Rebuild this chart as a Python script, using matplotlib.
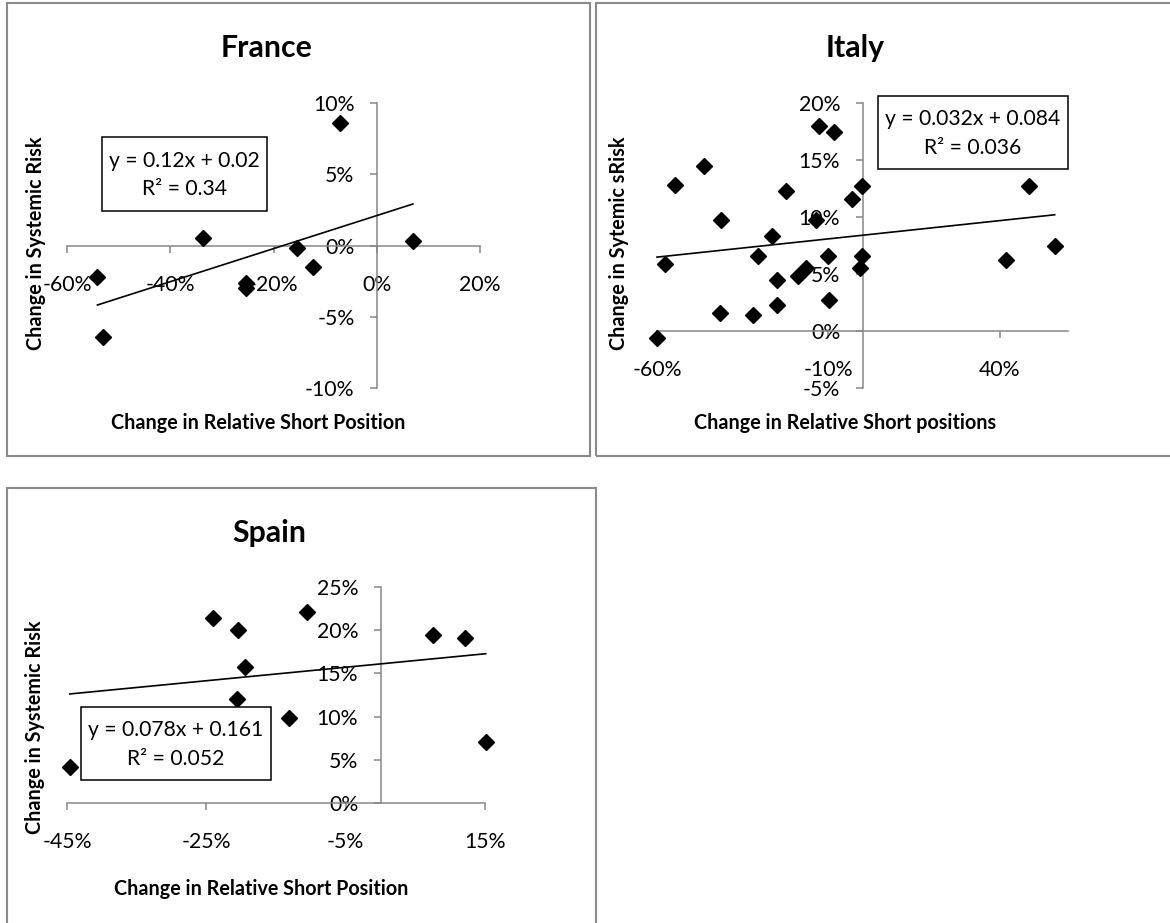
import matplotlib
matplotlib.use("Agg")
import matplotlib.pyplot as plt
from matplotlib.patches import Rectangle
from matplotlib.ticker import PercentFormatter, FixedLocator
import numpy as np

plt.rcParams['font.family'] = ['Lato', 'DejaVu Sans']
plt.rcParams['axes.unicode_minus'] = False

# France
france_x = [-0.072, -0.336, -0.541, -0.530, -0.253, -0.253, -0.155, -0.123, 0.070]
france_y = [0.086, 0.005, -0.022, -0.064, -0.026, -0.030, -0.002, -0.015, 0.003]
france_fit = [0.116, 0.021]
france_eq = "y = 0.12x + 0.02\nR² = 0.34"
france_xticks = [-0.6, -0.4, -0.2, 0.0, 0.2]
france_yticks = [-0.10, -0.05, 0.0, 0.05, 0.10]

# Italy
italy_x = [-0.127, -0.083, -0.462, -0.546, -0.222, -0.002, -0.032, -0.413, -0.137,
           -0.263, -0.576, -0.305, -0.101, -0.002, -0.166, -0.188, -0.251, -0.008,
           -0.098, -0.251, -0.415, -0.320, -0.600, 0.486, 0.418, 0.561]
italy_y = [0.180, 0.175, 0.145, 0.128, 0.123, 0.127, 0.116, 0.097, 0.097,
           0.083, 0.059, 0.066, 0.066, 0.066, 0.055, 0.048, 0.045, 0.055,
           0.027, 0.023, 0.016, 0.014, -0.006, 0.127, 0.062, 0.075]
italy_fit = [0.032, 0.084]
italy_eq = "y = 0.032x + 0.084\nR² = 0.036"
italy_xticks = [-0.6, -0.1, 0.4]
italy_yticks = [-0.05, 0.0, 0.05, 0.10, 0.15, 0.20]

# Spain
spain_x = [-0.241, -0.205, -0.105, -0.194, -0.206, -0.131, -0.446, 0.075, 0.121, 0.151]
spain_y = [0.214, 0.200, 0.221, 0.157, 0.120, 0.098, 0.042, 0.195, 0.191, 0.071]
spain_fit = [0.078, 0.161]
spain_eq = "y = 0.078x + 0.161\nR² = 0.052"
spain_xticks = [-0.45, -0.25, -0.05, 0.15]
spain_yticks = [0.0, 0.05, 0.10, 0.15, 0.20, 0.25]

W, H = 1170, 923
fig = plt.figure(figsize=(W / 100, H / 100), dpi=100)
AXIS_GRAY = '#868686'


def fx(px):
    return px / W


def fy(py):
    return 1 - py / H


def frame(x0, y0, x1, y1):
    fig.patches.append(Rectangle((fx(x0), fy(y1)), fx(x1) - fx(x0), fy(y0) - fy(y1),
                                 transform=fig.transFigure, fill=False,
                                 edgecolor='#8a8a8a', lw=1.5, zorder=0))


def panel(rect, x, y, fit, eq, xticks, yticks, xlim, ylim, title, xlabel, ylabel,
          title_pos, eq_box, xlab_pos, ylab_pos):
    x0, y0, x1, y1 = rect
    ax = fig.add_axes([fx(x0), fy(y1), fx(x1) - fx(x0), fy(y0) - fy(y1)])
    ax.set_xlim(xlim)
    ax.set_ylim(ylim)
    for s in ['top', 'right']:
        ax.spines[s].set_visible(False)
    ax.spines['left'].set_position(('data', 0))
    ax.spines['bottom'].set_position(('data', 0))
    for s in ['left', 'bottom']:
        ax.spines[s].set_color(AXIS_GRAY)
        ax.spines[s].set_linewidth(1.1)
    ax.xaxis.set_major_locator(FixedLocator(xticks))
    ax.yaxis.set_major_locator(FixedLocator(yticks))
    ax.xaxis.set_major_formatter(PercentFormatter(1.0, decimals=0))
    ax.yaxis.set_major_formatter(PercentFormatter(1.0, decimals=0))
    ax.tick_params(axis='both', direction='out', length=5, width=1.1, color=AXIS_GRAY,
                   labelsize=15.3, labelcolor='black')
    ax.tick_params(axis='x', pad=16)
    ax.tick_params(axis='y', pad=11)
    ax.patch.set_visible(False)

    xs = np.array([min(x), max(x)])
    ax.plot(xs, fit[0] * xs + fit[1], color='black', lw=1.2, zorder=3, clip_on=False)
    ax.plot(x, y, linestyle='none', marker='D', ms=8.2, color='black', zorder=4, clip_on=False)

    ax.set_xlabel(xlabel, fontsize=14.2, fontweight='bold')
    ax.set_ylabel(ylabel, fontsize=14.2, fontweight='bold')
    ax.xaxis.set_label_coords((xlab_pos[0] - x0) / (x1 - x0), (y1 - xlab_pos[1]) / (y1 - y0))
    ax.yaxis.set_label_coords((ylab_pos[0] - x0) / (x1 - x0), (y1 - ylab_pos[1]) / (y1 - y0))
    ax.xaxis.label.set_verticalalignment('center')
    ax.yaxis.label.set_verticalalignment('center')

    fig.text(fx(title_pos[0]), fy(title_pos[1]), title, fontsize=21.8, fontweight='bold',
             ha='center', va='center')

    bx0, by0, bx1, by1 = eq_box
    fig.patches.append(Rectangle((fx(bx0), fy(by1)), fx(bx1) - fx(bx0), fy(by0) - fy(by1),
                                 transform=fig.transFigure, facecolor='white',
                                 edgecolor='black', lw=1.1, zorder=5))
    fig.text(fx((bx0 + bx1) / 2), fy((by0 + by1) / 2 + 1), eq, fontsize=15.2, ha='center',
             va='center', linespacing=1.55, zorder=6)
    return ax


frame(7, 3, 590, 456)
frame(596, 3, 1176, 456)
frame(7, 488, 596, 930)

panel((67, 103, 480, 388), france_x, france_y, france_fit, france_eq,
      france_xticks, france_yticks, (-0.6, 0.2), (-0.10, 0.10), "France",
      "Change in Relative Short Position", "Change in Systemic Risk",
      (267, 48), (102, 137, 267, 211), (258, 423), (36, 243))

panel((657, 103, 1068, 388), italy_x, italy_y, italy_fit, italy_eq,
      italy_xticks, italy_yticks, (-0.6, 0.6), (-0.05, 0.20), "Italy",
      "Change in Relative Short positions", "Change in Sytemic sRisk",
      (855, 48), (878, 96, 1068, 169), (845, 423), (619, 243))

panel((67, 587, 485, 803), spain_x, spain_y, spain_fit, spain_eq,
      spain_xticks, spain_yticks, (-0.45, 0.15), (0.0, 0.25), "Spain",
      "Change in Relative Short Position", "Change in Systemic Risk",
      (269, 533), (81, 707, 271, 780), (261, 889), (35, 727))

fig.savefig("out.png", dpi=100, facecolor='white')
